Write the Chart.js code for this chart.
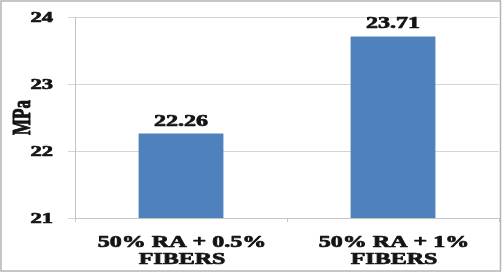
<!DOCTYPE html>
<html><head><meta charset="utf-8">
<script src="https://cdn.jsdelivr.net/npm/chart.js@4/dist/chart.umd.min.js"></script>
<style>html,body{margin:0;padding:0;background:#fff;}#wrap{width:502px;height:272px;}</style>
</head><body><div id="wrap"><canvas id="c" width="502" height="272"></canvas></div>
<script>
const categories = [["50% RA + 0.5%", "FIBERS"], ["50% RA + 1%", "FIBERS"]];
const values = [22.26, 23.71];
const valueLabels = ["22.26", "23.71"];
const yTicks = [21, 22, 23, 24];
const yTitle = "MPa";

const FONT = "'Liberation Serif', 'Times New Roman', serif";
const STRETCH = 1.5;   // reference text is horizontally stretched
const TEXT = '#141414';

function paintText(ctx, str, font, align, baseline) {
  ctx.font = font;
  ctx.fillStyle = TEXT;
  ctx.strokeStyle = TEXT;
  ctx.lineWidth = 0.7;
  ctx.lineJoin = 'round';
  ctx.textAlign = align;
  ctx.textBaseline = baseline;
  ctx.fillText(str, 0, 0);
  ctx.strokeText(str, 0, 0);
}

function stretchedText(ctx, str, x, y, font, align, baseline) {
  ctx.save();
  ctx.translate(x, y);
  ctx.scale(STRETCH, 1);
  paintText(ctx, str, font, align, baseline);
  ctx.restore();
}

const frame = {
  id: 'frame',
  beforeDraw(chart) {
    const ctx = chart.ctx;
    ctx.save();
    ctx.fillStyle = '#fff';
    ctx.fillRect(0, 0, chart.width, chart.height);
    ctx.strokeStyle = '#b4b4b4';
    ctx.lineWidth = 1.5;
    ctx.strokeRect(1, 1, chart.width - 2.5, chart.height - 2);
    ctx.restore();
  }
};

const textPlugin = {
  id: 'texts',
  afterDraw(chart) {
    const ctx = chart.ctx;
    const ys = chart.scales.y, xs = chart.scales.x;
    yTicks.forEach(v => {
      stretchedText(ctx, String(v), 53, ys.getPixelForValue(v) + 1, "bold 15px " + FONT, 'right', 'middle');
    });
    categories.forEach((lines, i) => {
      const cx = xs.getPixelForValue(i) + 1;
      lines.forEach((ln, j) => {
        stretchedText(ctx, ln, cx, 247 + j * 17, "bold 16px " + FONT, 'center', 'alphabetic');
      });
    });
    const meta = chart.getDatasetMeta(0);
    meta.data.forEach((bar, i) => {
      stretchedText(ctx, valueLabels[i], bar.x, bar.y - 8, "bold 16px " + FONT, 'center', 'alphabetic');
    });
    ctx.save();
    ctx.translate(30, (ys.top + ys.bottom) / 2);
    ctx.scale(STRETCH, 1);
    ctx.rotate(-Math.PI / 2);
    paintText(ctx, yTitle, "bold 17px " + FONT, 'center', 'alphabetic');
    ctx.restore();
  }
};

new Chart(document.getElementById('c'), {
  type: 'bar',
  data: {
    labels: categories,
    datasets: [{
      data: values,
      backgroundColor: '#4f81bd',
      borderWidth: 0,
      categoryPercentage: 0.8,
      barPercentage: 0.5
    }]
  },
  options: {
    responsive: false,
    animation: false,
    devicePixelRatio: 1,
    layout: { padding: { top: 17, right: 3, left: 68, bottom: 50 } },
    plugins: { legend: { display: false }, tooltip: { enabled: false } },
    scales: {
      y: {
        min: 21, max: 24,
        afterBuildTicks(scale) { scale.ticks = yTicks.map(v => ({ value: v })); },
        ticks: { display: false },
        grid: { color: '#d4d4d4', tickLength: 7 },
        border: { color: '#c4c4c4' }
      },
      x: {
        ticks: { display: false },
        grid: { drawOnChartArea: false, color: '#c4c4c4', tickLength: 4 },
        border: { color: '#c4c4c4' }
      }
    }
  },
  plugins: [frame, textPlugin]
});
</script></body></html>
